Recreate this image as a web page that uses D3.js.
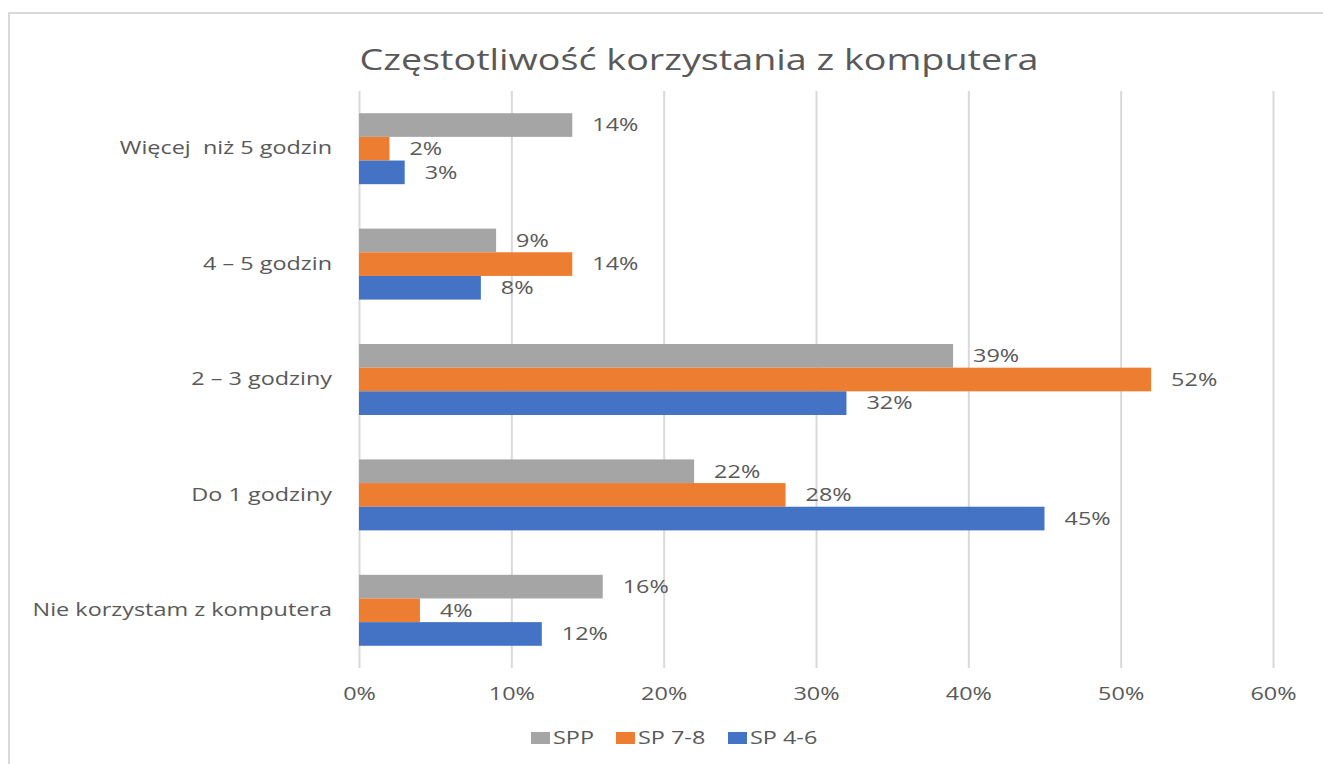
<!DOCTYPE html>
<html>
<head>
<meta charset="utf-8">
<script src="https://cdn.jsdelivr.net/npm/d3@7"></script>
<style>
  body { margin: 0; background: #fff; }
  text { font-family: "Open Sans", sans-serif; fill: #595959; }
</style>
</head>
<body>
<svg id="chart" width="1323" height="764"></svg>
<script>
// ----------

const TITLE = "Częstotliwość korzystania z komputera";
const CATEGORIES = ["Więcej  niż 5 godzin", "4 – 5 godzin", "2 – 3 godziny", "Do 1 godziny", "Nie korzystam z komputera"];
const SERIES = ["SPP", "SP 7-8", "SP 4-6"];
const SPP_VALUES = [0.14, 0.09, 0.39, 0.22, 0.16];
const SP78_VALUES = [0.02, 0.14, 0.52, 0.28, 0.04];
const SP46_VALUES = [0.03, 0.08, 0.32, 0.45, 0.12];
const TICKS = [0, 0.1, 0.2, 0.3, 0.4, 0.5, 0.6];

const SERIES_COLORS = ["#a5a5a5", "#ed7d31", "#4472c4"];

// the source picture is stretched sideways, so the text is widened to match
const TEXT_STRETCH = 1.3;

// ----------

const svg = d3.select("#chart");
const margin = { top: 91, left: 359, right: 50, bottom: 96 };
const width = +svg.attr("width");
const height = +svg.attr("height");

const values = [SPP_VALUES, SP78_VALUES, SP46_VALUES];
const rows = CATEGORIES.map((c, i) => ({ cat: c, vals: SERIES.map((s, j) => ({ series: s, idx: j, v: values[j][i] })) }));

const x = d3.scaleLinear().domain([0, 0.6]).range([margin.left, 1273]);
const y = d3.scaleBand().domain(CATEGORIES).range([margin.top, 668]).paddingInner(0.385).paddingOuter(0.1925);
const ySub = d3.scaleBand().domain(SERIES).range([0, y.bandwidth()]);
const fmt = d3.format(".0%");

// chart frame
svg.append("rect")
  .attr("x", 9).attr("y", 13)
  .attr("width", width + 10).attr("height", height + 10)
  .attr("fill", "none").attr("stroke", "#d9d9d9").attr("stroke-width", 2);

svg.append("text")
  .attr("x", 699).attr("y", 70)
  .attr("text-anchor", "middle")
  .style("font-size", "29px")
  .text(TITLE);

// gridlines + tick labels via the axis
const xAxis = svg.append("g")
  .attr("transform", `translate(0, 668)`)
  .call(d3.axisBottom(x).tickValues(TICKS).tickFormat(fmt).tickSize(-(668 - margin.top)).tickPadding(19));
xAxis.select(".domain").remove();
xAxis.selectAll(".tick line").attr("stroke", "#d9d9d9").attr("stroke-width", 2);
xAxis.selectAll(".tick text").style("font-size", "18px").attr("fill", "#595959").attr("font-family", null);

// category labels
const yAxis = svg.append("g")
  .attr("transform", `translate(${margin.left}, 0)`)
  .call(d3.axisLeft(y).tickSize(0).tickPadding(27));
yAxis.select(".domain").remove();
yAxis.selectAll(".tick text").style("font-size", "18px").attr("fill", "#595959").attr("font-family", null)
  .style("white-space", "pre");

const group = svg.selectAll(".cat")
  .data(rows)
  .enter()
  .append("g")
  .attr("class", "cat")
  .attr("transform", (d) => `translate(0, ${y(d.cat)})`);

group.selectAll("rect")
  .data((d) => d.vals)
  .enter()
  .append("rect")
  .attr("x", x(0))
  .attr("y", (d) => ySub(d.series))
  .attr("width", (d) => x(d.v) - x(0))
  .attr("height", ySub.bandwidth())
  .attr("fill", (d) => SERIES_COLORS[d.idx]);

group.selectAll("text.val")
  .data((d) => d.vals)
  .enter()
  .append("text")
  .attr("class", "val")
  .attr("x", (d) => x(d.v) + 20)
  .attr("y", (d) => ySub(d.series) + ySub.bandwidth() / 2)
  .attr("dy", "0.35em")
  .style("font-size", "18px")
  .text((d) => fmt(d.v));

// ----------------- legend

const legendX = [531, 616, 728];
const legend = svg.selectAll(".legend")
  .data(SERIES)
  .enter()
  .append("g")
  .attr("class", "legend")
  .attr("transform", (d, i) => `translate(${legendX[i]}, 738)`);

legend.append("rect")
  .attr("x", 0).attr("y", -6)
  .attr("width", 19).attr("height", 12)
  .attr("fill", (d, i) => SERIES_COLORS[i]);

legend.append("text")
  .attr("x", 22).attr("dy", "0.35em")
  .style("font-size", "18px")
  .text((d) => d);

// widen every label
svg.selectAll("text").each(function () {
  const w = this.getComputedTextLength();
  d3.select(this).attr("textLength", w * TEXT_STRETCH).attr("lengthAdjust", "spacingAndGlyphs");
});
</script>
</body>
</html>
